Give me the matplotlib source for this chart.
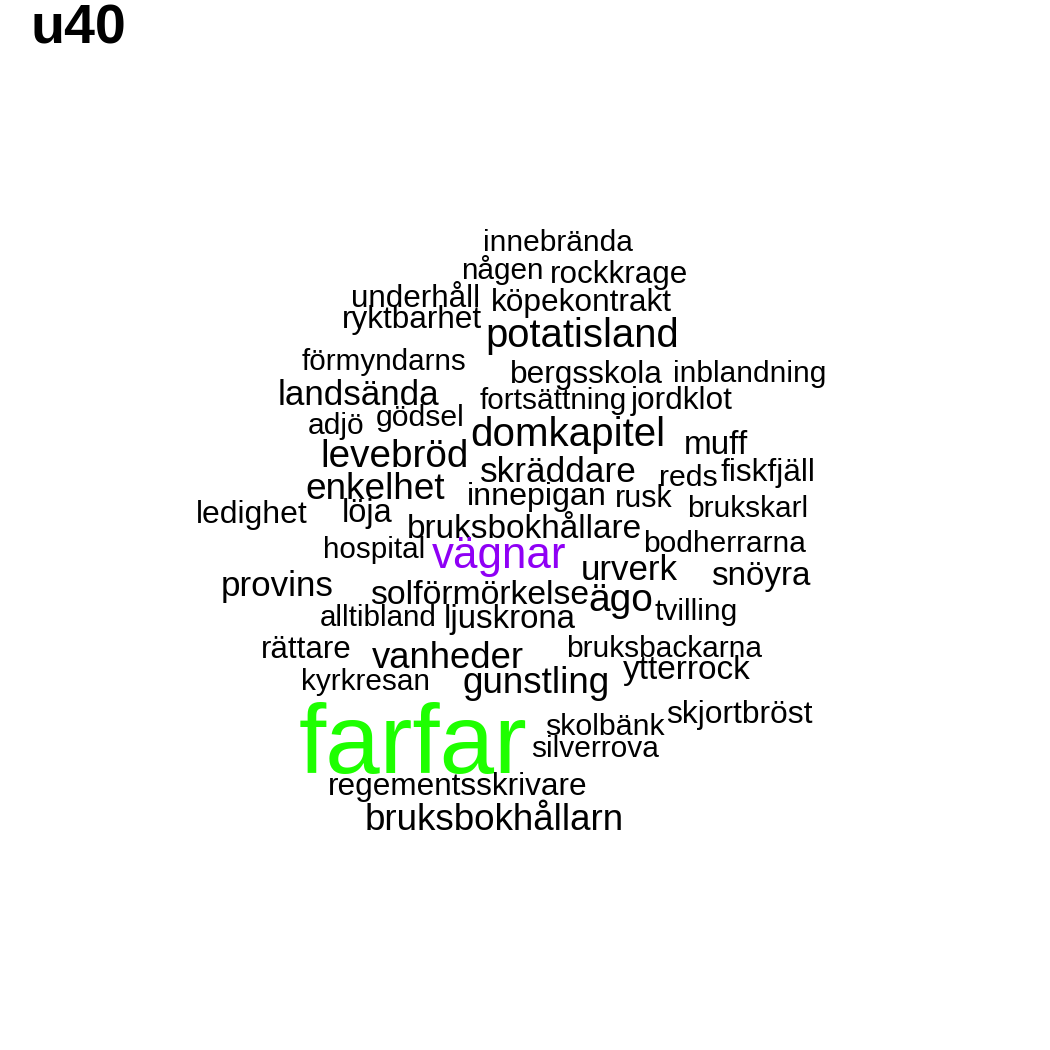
import matplotlib
matplotlib.use("Agg")
import matplotlib.pyplot as plt

# ---- data ----
title = "u40"
words = ["innebrända", "någen", "rockkrage", "underhåll", "köpekontrakt", "ryktbarhet",
         "potatisland", "förmyndarns", "bergsskola", "inblandning", "landsända",
         "fortsättning", "jordklot", "adjö", "gödsel", "domkapitel", "muff", "levebröd",
         "skräddare", "reds", "fiskfjäll", "enkelhet", "innepigan", "rusk", "brukskarl",
         "ledighet", "löja", "bruksbokhållare", "bodherrarna", "hospital", "vägnar",
         "urverk", "snöyra", "provins", "solförmörkelse", "ägo", "tvilling", "alltibland",
         "ljuskrona", "rättare", "bruksbackarna", "vanheder", "ytterrock", "kyrkresan",
         "gunstling", "farfar", "skjortbröst", "skolbänk", "silverrova",
         "regementsskrivare", "bruksbokhållarn"]
counts = [2, 2, 2, 2, 2, 2, 3, 2, 2, 2, 3, 2, 2, 2, 2, 3, 2, 3, 3, 2, 2, 3, 2, 2, 2,
          2, 2, 2, 2, 2, 4, 2, 2, 2, 2, 3, 2, 2, 2, 2, 2, 3, 2, 2, 3, 10, 2, 2, 2, 2, 3]

# ---- layout (pixel coordinates: left, right, baseline) ----
x_left = [483, 461, 550, 351, 490, 341, 485, 301, 510, 673, 277, 479, 630, 308, 376,
          470, 683, 320, 480, 659, 720, 305, 467, 615, 687, 196, 342, 406, 643, 323,
          432, 580, 711, 221, 369, 588, 654, 320, 443, 261, 566, 371, 622, 300, 462,
          296, 666, 545, 531, 327, 364]
x_right = [633, 544, 689, 481, 672, 482, 679, 467, 663, 826, 439, 627, 733, 365, 465,
           665, 748, 469, 637, 718, 816, 445, 607, 673, 809, 308, 393, 642, 807, 425,
           567, 678, 811, 334, 590, 653, 738, 437, 576, 352, 763, 524, 751, 430, 610,
           529, 813, 665, 660, 588, 624]
baseline = [251, 279, 283, 307, 311, 328, 347, 370, 383, 382, 405, 409, 409, 434, 426,
            446, 454, 467, 482, 486, 481, 499, 505, 507, 517, 523, 522, 538, 552, 558,
            568, 580, 585, 596, 604, 611, 620, 626, 628, 658, 657, 668, 679, 690, 693,
            773, 723, 735, 757, 795, 830]

colors = {"farfar": "#1EFF00", "vägnar": "#8F00F5"}

W = H = 1050
fig = plt.figure(figsize=(10.5, 10.5), dpi=100)
ax = fig.add_axes([0, 0, 1, 1])
ax.set_xlim(0, W)
ax.set_ylim(H, 0)
ax.axis("off")

fam = ["Liberation Sans", "DejaVu Sans"]
fig.canvas.draw()
renderer = fig.canvas.get_renderer()
for w, c, xl, xr, yb in zip(words, counts, x_left, x_right, baseline):
    t = ax.text((xl + xr) / 2, yb, w, ha="center", va="baseline", fontsize=10,
                family=fam, color=colors.get(w, "black"))
    ext = t.get_window_extent(renderer=renderer)
    t.set_fontsize(10 * (xr - xl) / ext.width)

ax.text(31, 44, title, ha="left", va="baseline", fontsize=40, fontweight="bold",
        family=fam, color="black")

fig.savefig("out.png", dpi=100, facecolor="white")
